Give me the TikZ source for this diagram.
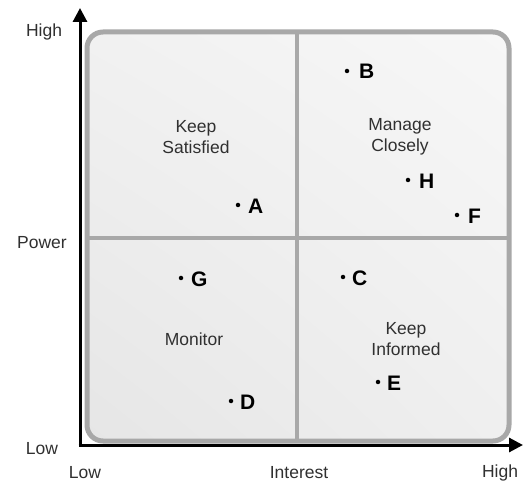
\documentclass[tikz,border=0pt]{standalone}
\usepackage{fontspec}
\setmainfont{Liberation Sans}
\usetikzlibrary{arrows.meta,shadings}
\definecolor{frame}{HTML}{A8A8A8}
\definecolor{txt}{HTML}{303030}
\definecolor{cul}{HTML}{F1F1F1}
\definecolor{cur}{HTML}{F7F7F7}
\definecolor{cll}{HTML}{E6E6E6}
\definecolor{clr}{HTML}{EFEFEF}
\tikzset{
  axislabel/.style={font=\fontsize{17.5}{20}\selectfont, text=txt, inner sep=0pt},
  quadlabel/.style={font=\fontsize{17.5}{21}\selectfont, text=txt, align=center, inner sep=0pt},
  ptlabel/.style={font=\fontsize{21}{24}\selectfont\bfseries, text=black, inner sep=0pt, anchor=west},
  ptdot/.style={circle, fill=black, inner sep=0pt, minimum size=4.5pt},
  axis/.style={line width=3pt, -{Triangle[length=14pt,width=14pt]}},
}
\begin{document}
\begin{tikzpicture}[x=1pt,y=-1pt]
\useasboundingbox (0,0) rectangle (525,486);
% quadrant panel
\shade[upper left=cul, upper right=cur, lower left=cll, lower right=clr,
       rounded corners=16pt] (87,32) rectangle (509,441);
\draw[frame, line width=5pt, rounded corners=16pt] (87,32) rectangle (509,441);
\draw[frame, line width=4pt] (297,32) -- (297,441);
\draw[frame, line width=4pt] (87,238) -- (509,238);
% axes
\coordinate (O) at (80,445);
\coordinate (ytop) at (80,8);
\coordinate (xend) at (523,445);
\draw[axis] ([yshift=1.5pt]O) -- (ytop);
\draw[axis] ([xshift=-1.5pt]O) -- (xend);
% axis labels
\node[axislabel] (yh) at (44,32) {High};
\node[axislabel] (yp) at (42,243) {Power};
\node[axislabel] (yl) at (42,449) {Low};
\node[axislabel] (xl) at (85,473) {Low};
\node[axislabel] (xi) at (299,473) {Interest};
\node[axislabel] (xh) at (500,473) {High};
% quadrant labels
\node[quadlabel] (q1) at (196,137) {Keep\\Satisfied};
\node[quadlabel] (q2) at (400,137) {Manage\\Closely};
\node[quadlabel] (q3) at (194,339) {Monitor};
\node[quadlabel] (q4) at (406,339) {Keep\\Informed};
% points
\node[ptdot] (dB) at (347,71) {};  \node[ptlabel] (lB) at (359,71) {B};
\node[ptdot] (dA) at (238,205) {}; \node[ptlabel] (lA) at (248,206) {A};
\node[ptdot] (dH) at (408,180) {}; \node[ptlabel] (lH) at (419,181) {H};
\node[ptdot] (dF) at (457,215) {}; \node[ptlabel] (lF) at (468,216) {F};
\node[ptdot] (dG) at (181,278) {}; \node[ptlabel] (lG) at (191,279) {G};
\node[ptdot] (dC) at (343,277) {}; \node[ptlabel] (lC) at (352,278) {C};
\node[ptdot] (dD) at (231,401) {}; \node[ptlabel] (lD) at (240,402) {D};
\node[ptdot] (dE) at (378,382) {}; \node[ptlabel] (lE) at (387,383) {E};
\end{tikzpicture}
\end{document}
